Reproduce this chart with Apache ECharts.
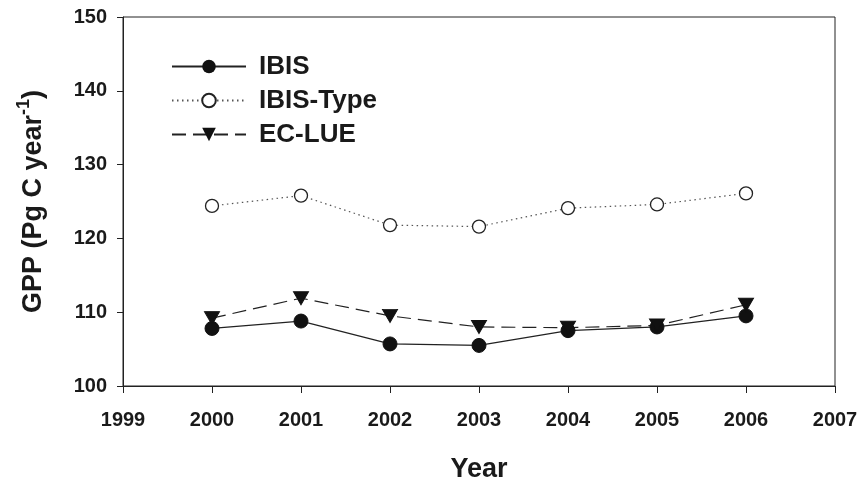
<!DOCTYPE html>
<html><head><meta charset="utf-8">
<script src="https://cdn.jsdelivr.net/npm/echarts@6/dist/echarts.min.js"></script>
<style>html,body{margin:0;padding:0;background:#fff}#c{width:859px;height:482px}</style>
</head><body><div id="c"></div>
<script>
var years = [2000, 2001, 2002, 2003, 2004, 2005, 2006];
var ibis = [107.8, 108.8, 105.7, 105.5, 107.5, 108.0, 109.5];
var ibisType = [124.4, 125.8, 121.8, 121.6, 124.1, 124.6, 126.1];
var ecLue = [109.2, 111.9, 109.5, 108.0, 107.9, 108.2, 111.0];
var seriesNames = ['IBIS', 'IBIS-Type', 'EC-LUE'];

function pairs(v) { return years.map(function (y, i) { return [y, v[i]]; }); }
var FONT = '"Liberation Sans", Arial, sans-serif';
var chart = echarts.init(document.getElementById('c'), null, {renderer: 'canvas'});
chart.setOption({
  animation: false,
  backgroundColor: '#fff',
  grid: {left: 123, right: 24, top: 17, bottom: 96, show: true, borderColor: '#222', borderWidth: 1,
         containLabel: false, outerBoundsMode: 'none'},
  legend: {
    orient: 'vertical', left: 166, top: 48, itemWidth: 74, itemHeight: 17, itemGap: 7,
    textStyle: {fontFamily: FONT, fontWeight: 'bold', fontSize: 26, color: '#1a1a1a', lineHeight: 27, padding: [0, 0, 0, 8]},
    data: seriesNames
  },
  xAxis: {
    type: 'value', min: 1999, max: 2007, interval: 1,
    name: 'Year', nameLocation: 'middle', nameGap: 70,
    nameTextStyle: {fontFamily: FONT, fontWeight: 'bold', fontSize: 27, color: '#1a1a1a'},
    axisLine: {lineStyle: {color: '#222', width: 1}},
    axisTick: {length: 7, lineStyle: {color: '#222'}},
    splitLine: {show: false},
    axisLabel: {fontFamily: FONT, fontWeight: 'bold', fontSize: 20, color: '#1a1a1a', margin: 24, formatter: function (v) { return String(v); }}
  },
  yAxis: {
    type: 'value', min: 100, max: 150, interval: 10,
    name: '{m|GPP (Pg C year}{s|-1}{m|)}', nameLocation: 'middle', nameGap: 76, nameRotate: 90,
    nameTextStyle: {rich: {
      m: {fontFamily: FONT, fontWeight: 'bold', fontSize: 27, color: '#1a1a1a', lineHeight: 32, verticalAlign: 'bottom'},
      s: {fontFamily: FONT, fontWeight: 'bold', fontSize: 18, color: '#1a1a1a', lineHeight: 32, verticalAlign: 'top'}
    }},
    axisLine: {show: true, lineStyle: {color: '#222', width: 1}},
    axisTick: {show: true, length: 6, lineStyle: {color: '#222'}},
    splitLine: {show: false},
    axisLabel: {fontFamily: FONT, fontWeight: 'bold', fontSize: 20, color: '#1a1a1a', margin: 16}
  },
  series: [
    {name: seriesNames[0], type: 'line', data: pairs(ibis), symbol: 'circle', symbolSize: 14,
     lineStyle: {color: '#222', width: 1.2, type: 'solid'}, itemStyle: {color: '#111', borderColor: '#111'}},
    {name: seriesNames[1], type: 'line', data: pairs(ibisType), symbol: 'circle', symbolSize: 13,
     lineStyle: {color: '#555', width: 1.2, type: [1.5, 3.5]}, itemStyle: {color: '#fff', borderColor: '#222', borderWidth: 1.3}},
    {name: seriesNames[2], type: 'line', data: pairs(ecLue), symbol: 'triangle', symbolRotate: 180, symbolSize: [15, 13],
     lineStyle: {color: '#222', width: 1.2, type: [14, 7]}, itemStyle: {color: '#111', borderColor: '#111'}}
  ]
});
</script></body></html>
